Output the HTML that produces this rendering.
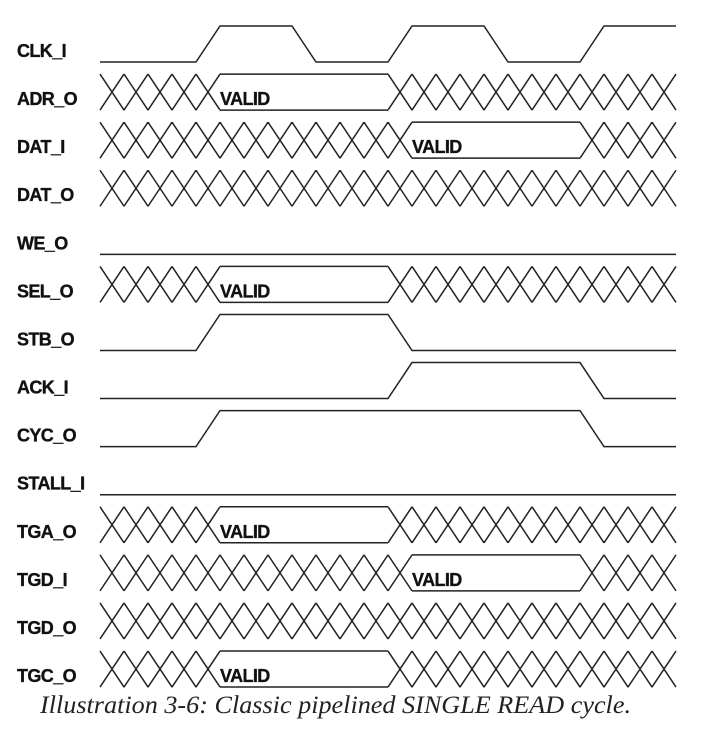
<!DOCTYPE html>
<html><head><meta charset="utf-8"><style>
html,body{margin:0;padding:0;background:#fff;width:721px;height:730px;overflow:hidden}
svg{display:block}
.lbl{font-family:"Liberation Sans",sans-serif;font-weight:bold;font-size:18px;fill:#111;stroke:#111;stroke-width:0.35px;letter-spacing:-0.6px}
.cap{font-family:"Liberation Serif",serif;font-style:italic;font-size:25px;fill:#222}
</style></head><body>
<svg id="chart" width="721" height="730" viewBox="0 0 721 730"></svg>
<script>
// signal names (rows top to bottom)
const signalNames = ["CLK_I","ADR_O","DAT_I","DAT_O","WE_O","SEL_O","STB_O","ACK_I","CYC_O","STALL_I","TGA_O","TGD_I","TGD_O","TGC_O"];
// signal kinds: level = digital, bus = data bus
const signalKinds = ["level","bus","bus","bus","level","bus","level","level","level","level","bus","bus","bus","bus"];
// level signals: initial level and toggle edge times (in time units)
const levelInit = {CLK_I:0, WE_O:0, STB_O:0, ACK_I:0, CYC_O:0, STALL_I:0};
const levelEdges = {CLK_I:[4.5,8.5,12.5,16.5,20.5], WE_O:[], STB_O:[4.5,12.5], ACK_I:[12.5,20.5], CYC_O:[4.5,20.5], STALL_I:[]};
// bus signals: valid window [start,end] in time units (null = always unknown)
const busValid = {ADR_O:[4.5,12.5], DAT_I:[12.5,20.5], DAT_O:null, SEL_O:[4.5,12.5], TGA_O:[4.5,12.5], TGD_I:[12.5,20.5], TGD_O:null, TGC_O:[4.5,12.5]};
const timeEnd = 24;

const svg = document.getElementById('chart');
const NS = 'http://www.w3.org/2000/svg';
const X0 = 100, UNIT = 24, HALF = 12, PITCH = 48.08, ROW0_BOT = 62, H = 36;
const xOf = t => X0 + t * UNIT;
const botOf = i => ROW0_BOT + i * PITCH;

function mk(tag, attrs){ const e = document.createElementNS(NS, tag); for (const k in attrs) e.setAttribute(k, attrs[k]); return e; }
function path(d, name){
  const p = mk('path', {d:d, fill:'none', stroke:'#222', 'stroke-width':'1.5', 'stroke-linejoin':'miter'});
  
  
  svg.appendChild(p);
}

signalNames.forEach((nm, i) => {
  const b = botOf(i), tp = b - H, mid = b - H/2;
  const slug = nm.toLowerCase().replace('_','-');
  const t = mk('text', {x:17, y:b-5, class:'lbl'});
  t.textContent = nm;
  
  
  svg.appendChild(t);
  if (signalKinds[i] === 'level') {
    let lvl = levelInit[nm];
    let y = lvl ? tp : b;
    let d = 'M' + xOf(0) + ' ' + y;
    levelEdges[nm].forEach(e => {
      d += ' L' + (xOf(e) - HALF) + ' ' + y;
      lvl = 1 - lvl; y = lvl ? tp : b;
      d += ' L' + (xOf(e) + HALF) + ' ' + y;
    });
    d += ' L' + xOf(timeEnd) + ' ' + y;
    path(d, slug + '-waveform');
  } else {
    const v = busValid[nm];
    let dTop = '', dBot = '';
    for (let k = 0; k < timeEnd; k++) {
      const c = xOf(k + 0.5);
      const left = c - HALF, right = c + HALF;
      if (v && (c > xOf(v[0]) + 0.1 && c < xOf(v[1]) - 0.1)) continue;
      const edge = v && (Math.abs(c - xOf(v[0])) < 0.1 || Math.abs(c - xOf(v[1])) < 0.1);
      if (edge) {
        dTop += ' M' + left + ' ' + tp + ' L' + c + ' ' + mid + ' L' + left + ' ' + b;
        dTop += ' M' + right + ' ' + tp + ' L' + c + ' ' + mid + ' L' + right + ' ' + b;
      } else {
        dTop += ' M' + left + ' ' + tp + ' L' + right + ' ' + b;
        dBot += ' M' + left + ' ' + b + ' L' + right + ' ' + tp;
      }
    }
    path(dTop + dBot, slug + '-crossings');
    if (v) {
      const s = xOf(v[0]) + HALF, e = xOf(v[1]) - HALF;
      path('M' + s + ' ' + tp + ' L' + e + ' ' + tp + ' M' + s + ' ' + b + ' L' + e + ' ' + b, slug + '-valid-window');
      const vt = mk('text', {x:s, y:b-5, class:'lbl'});
      vt.textContent = 'VALID';
      
      
      svg.appendChild(vt);
    }
  }
});

const cap = mk('text', {x:40, y:713, class:'cap', textLength:591, lengthAdjust:'spacingAndGlyphs'});
cap.textContent = 'Illustration 3-6: Classic pipelined SINGLE READ cycle.';


svg.appendChild(cap);
</script>
</body></html>
